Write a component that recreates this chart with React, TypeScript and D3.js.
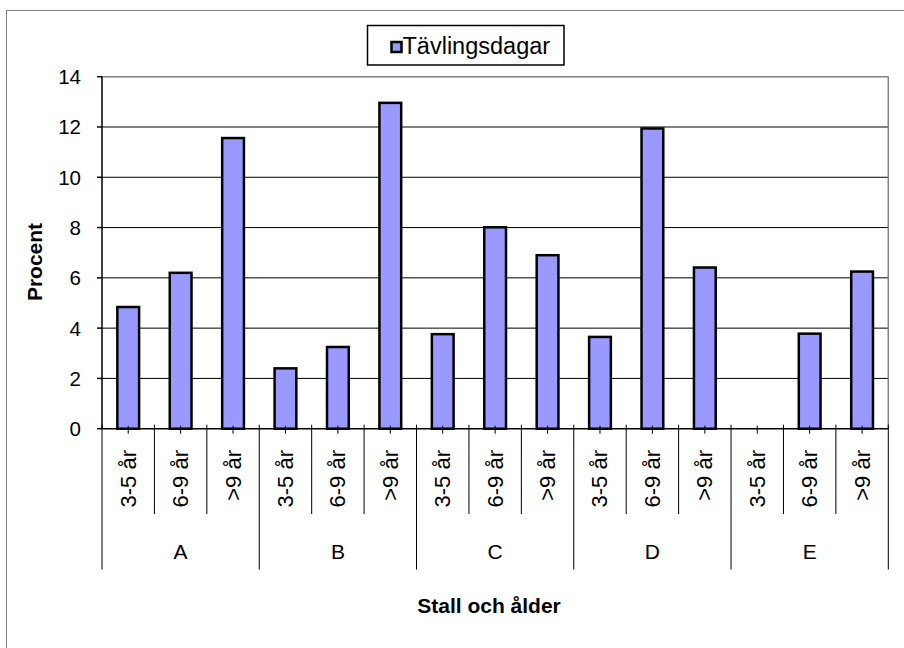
import React from "react";
import * as d3 from "d3";

const groups = ["A", "B", "C", "D", "E"];
const ages = ["3-5 år", "6-9 år", ">9 år"];
const values = [4.84, 6.2, 11.56, 2.4, 3.25, 12.96, 3.76, 8.01, 6.9, 3.65, 11.94, 6.41, 0, 3.78, 6.25];
const yTicks = [0, 2, 4, 6, 8, 10, 12, 14];
const seriesName = "Tävlingsdagar";
const xTitle = "Stall och ålder";
const yTitle = "Procent";

const W = 904;
const H = 648;
const left = 102;
const right = 888.3;
const top = 76.7;
const bottom = 428.7;
const font = "'Liberation Sans', Arial, sans-serif";

export default function App() {
  const cats = groups.flatMap((g) => ages.map((a) => `${g}|${a}`));
  const slot = d3.scaleBand<string>().domain(cats).range([left, right]).padding(0);
  const bar = d3
    .scaleBand<string>()
    .domain(cats)
    .range([left, right])
    .paddingInner(0.585)
    .paddingOuter(0.2925);
  const y = d3.scaleLinear().domain([0, 14]).range([bottom, top]);
  const step = slot.step();

  return (
    <svg
      width={W}
      height={H}
      style={{ position: "absolute", left: 0, top: 0, background: "#fff" }}
      fontFamily={font}
    >
      <rect x={0} y={0} width={W} height={H} fill="#fff" />
      {/* outer frame */}
      <rect x={6.5} y={10.5} width={W + 20} height={H + 20} fill="none" stroke="#808080" strokeWidth={1} />

      {/* gridlines */}
      {yTicks.filter((t) => t > 0 && t < 14).map((t) => (
        <line key={t} x1={left} x2={right} y1={y(t)} y2={y(t)} stroke="#000" strokeWidth={1} />
      ))}
      {/* plot border top and right */}
      <line x1={left} x2={right} y1={y(14)} y2={y(14)} stroke="#808080" strokeWidth={1.5} />
      <line x1={right} x2={right} y1={y(14)} y2={y(0)} stroke="#808080" strokeWidth={1.5} />

      {/* bars */}
      {cats.map((c, i) =>
        values[i] > 0 ? (
          <rect
            key={c}
            x={bar(c)}
            y={y(values[i])}
            width={bar.bandwidth()}
            height={y(0) - y(values[i])}
            fill="#9999FF"
            stroke="#000"
            strokeWidth={2.5}
          />
        ) : null
      )}

      {/* y axis */}
      <line x1={left} x2={left} y1={y(14)} y2={y(0)} stroke="#000" strokeWidth={1.5} />
      {yTicks.map((t) => (
        <g key={t}>
          <line x1={left - 5} x2={left} y1={y(t)} y2={y(t)} stroke="#000" strokeWidth={1.5} />
          <text x={81} y={y(t)} textAnchor="end" dominantBaseline="central" fontSize={20.5} fill="#000">
            {t}
          </text>
        </g>
      ))}

      {/* x axis */}
      <line x1={left} x2={right} y1={y(0)} y2={y(0)} stroke="#000" strokeWidth={1.5} />
      {cats.map((c) => (
        <line
          key={"t" + c}
          x1={(slot(c) as number) + step / 2}
          x2={(slot(c) as number) + step / 2}
          y1={y(0) - 3}
          y2={y(0) + 5}
          stroke="#000"
          strokeWidth={1}
        />
      ))}
      {cats.map((c, i) => {
        const x0 = slot(c) as number;
        const isGroup = i % 3 === 0;
        return (
          <line
            key={"b" + c}
            x1={x0}
            x2={x0}
            y1={y(0) - 4}
            y2={isGroup ? 569.5 : 514}
            stroke="#000"
            strokeWidth={1}
          />
        );
      })}
      <line x1={right} x2={right} y1={y(0) - 4} y2={569.5} stroke="#000" strokeWidth={1} />

      {cats.map((c, i) => (
        <text
          key={"l" + c}
          transform={`translate(${(slot(c) as number) + step / 2},450) rotate(-90)`}
          textAnchor="end"
          dominantBaseline="central"
          fontSize={22}
          fill="#000"
        >
          {ages[i % 3]}
        </text>
      ))}
      {groups.map((g) => {
        const x0 = slot(`${g}|${ages[0]}`) as number;
        return (
          <text
            key={g}
            x={x0 + step * 1.5}
            y={551}
            textAnchor="middle"
            dominantBaseline="central"
            fontSize={21}
            fill="#000"
          >
            {g}
          </text>
        );
      })}

      {/* axis titles */}
      <text x={489} y={605} textAnchor="middle" dominantBaseline="central" fontSize={21} fontWeight="bold" fill="#000">
        {xTitle}
      </text>
      <text
        transform={`translate(34,262) rotate(-90)`}
        textAnchor="middle"
        dominantBaseline="central"
        fontSize={21}
        fontWeight="bold"
        fill="#000"
      >
        {yTitle}
      </text>

      {/* legend */}
      <rect x={367.5} y={25.5} width={196.5} height={39.5} fill="#fff" stroke="#000" strokeWidth={1.5} />
      <rect x={391.5} y={42} width={10} height={10} fill="#9999FF" stroke="#000" strokeWidth={2.5} />
      <text x={402.5} y={46} dominantBaseline="central" fontSize={23.5} fill="#000">
        {seriesName}
      </text>
    </svg>
  );
}
